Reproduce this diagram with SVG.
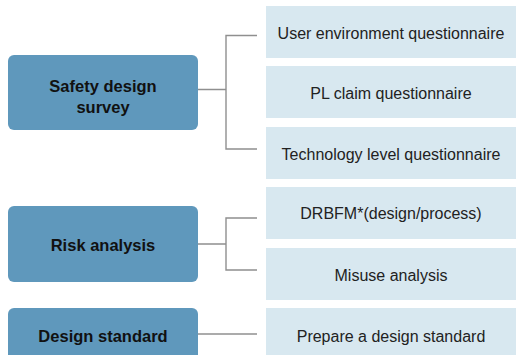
<svg xmlns="http://www.w3.org/2000/svg" width="516" height="355" viewBox="0 0 516 355">
<style>
.main{fill:#5f98bc}
.sub{fill:#d8e8f0}
.mt{font-family:"Liberation Sans",Arial,sans-serif;font-size:16.5px;font-weight:bold;fill:#111;text-anchor:middle}
.st{font-family:"Liberation Sans",Arial,sans-serif;font-size:16px;fill:#222;text-anchor:middle}
.con{fill:none;stroke:#8f8f8f;stroke-width:1.4}
</style>
<rect width="516" height="355" fill="#fff"/>
<g id="connectors">
<path class="con" d="M198,89.5 H226 M257,35.5 H226 V149 H257"/>
<path class="con" d="M198,244 H226 M257,218 H226 V270 H257"/>
<path class="con" d="M198,334 H257"/>
</g>
<g id="n-survey"><rect class="main" x="8" y="55" width="190" height="75" rx="6"/><text class="mt" x="103" y="92">Safety design</text><text class="mt" x="103" y="113">survey</text></g>
<g id="n-risk"><rect class="main" x="8" y="206" width="190" height="76" rx="6"/><text class="mt" x="103" y="251">Risk analysis</text></g>
<g id="n-design"><rect class="main" x="8" y="308" width="190" height="60" rx="6"/><text class="mt" x="103" y="342">Design standard</text></g>
<g id="n-user"><rect class="sub" x="266" y="6" width="250" height="52"/><text class="st" x="391" y="38.5">User environment questionnaire</text></g>
<g id="n-pl"><rect class="sub" x="266" y="66" width="250" height="52"/><text class="st" x="391" y="98.5">PL claim questionnaire</text></g>
<g id="n-tech"><rect class="sub" x="266" y="127" width="250" height="52"/><text class="st" x="391" y="159.5">Technology level questionnaire</text></g>
<g id="n-drbfm"><rect class="sub" x="266" y="187" width="250" height="52"/><text class="st" x="391" y="219.3">DRBFM*(design/process)</text></g>
<g id="n-misuse"><rect class="sub" x="266" y="248" width="250" height="52"/><text class="st" x="391" y="280.5">Misuse analysis</text></g>
<g id="n-prepare"><rect class="sub" x="266" y="308" width="250" height="50"/><text class="st" x="391" y="341.7">Prepare a design standard</text></g>
</svg>
